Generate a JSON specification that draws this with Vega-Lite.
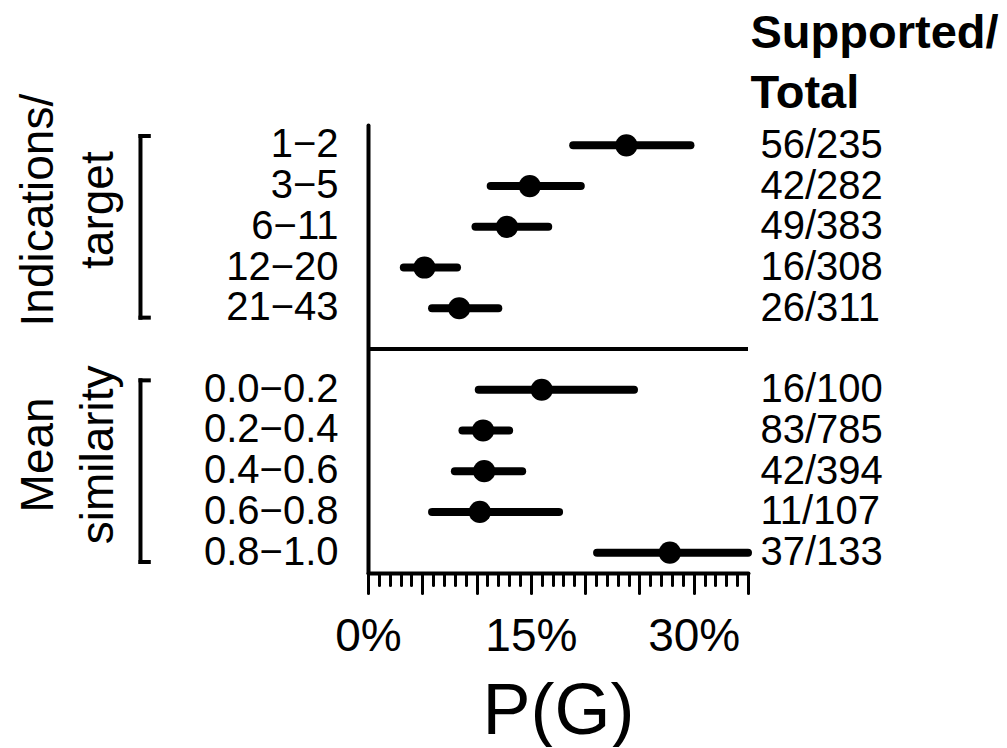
{
  "$schema": "https://vega.github.io/schema/vega-lite/v6.json",
  "padding": {"left": 0, "top": 9, "right": 0, "bottom": 0},
  "bounds": "flush",
  "spacing": 208,
  "config": {
    "font": "Liberation Sans",
    "view": {"stroke": null},
    "axis": {"grid": false, "domainColor": "black", "tickColor": "black", "labelColor": "black", "titleColor": "black"}
  },
  "resolve": {"scale": {"x": "independent", "y": "independent"}},
  "hconcat": [
    {
      "width": 160,
      "height": 448,
      "data": {"values": [{}]},
      "layer": [
        {
          "mark": {"type": "text", "angle": 270, "fontSize": 46, "align": "center", "baseline": "alphabetic", "lineHeight": 60, "color": "black"},
          "encoding": {
            "x": {"datum": 0.33, "type": "quantitative", "scale": {"domain": [0, 1], "nice": false, "zero": false}, "axis": null},
            "y": {"datum": 2.59, "type": "quantitative", "scale": {"domain": [0.5, 11.5], "nice": false, "zero": false, "reverse": true}, "axis": null},
            "text": {"value": ["Indications/", "target"]}
          }
        },
        {
          "mark": {"type": "text", "angle": 270, "fontSize": 46, "align": "center", "baseline": "alphabetic", "lineHeight": 60, "color": "black"},
          "encoding": {
            "x": {"datum": 0.33, "type": "quantitative"},
            "y": {"datum": 8.6, "type": "quantitative"},
            "text": {"value": ["Mean", "similarity"]}
          }
        },
        {
          "mark": {"type": "rule", "strokeWidth": 4, "strokeCap": "square", "color": "black"},
          "encoding": {"x": {"datum": 0.878, "type": "quantitative"}, "y": {"datum": 0.77, "type": "quantitative"}, "y2": {"datum": 5.23}}
        },
        {
          "mark": {"type": "rule", "strokeWidth": 4, "strokeCap": "square", "color": "black"},
          "encoding": {"x": {"datum": 0.878, "type": "quantitative"}, "x2": {"datum": 0.93}, "y": {"datum": 0.77, "type": "quantitative"}}
        },
        {
          "mark": {"type": "rule", "strokeWidth": 4, "strokeCap": "square", "color": "black"},
          "encoding": {"x": {"datum": 0.878, "type": "quantitative"}, "x2": {"datum": 0.93}, "y": {"datum": 5.23, "type": "quantitative"}}
        },
        {
          "mark": {"type": "rule", "strokeWidth": 4, "strokeCap": "square", "color": "black"},
          "encoding": {"x": {"datum": 0.878, "type": "quantitative"}, "y": {"datum": 6.77, "type": "quantitative"}, "y2": {"datum": 11.23}}
        },
        {
          "mark": {"type": "rule", "strokeWidth": 4, "strokeCap": "square", "color": "black"},
          "encoding": {"x": {"datum": 0.878, "type": "quantitative"}, "x2": {"datum": 0.93}, "y": {"datum": 6.77, "type": "quantitative"}}
        },
        {
          "mark": {"type": "rule", "strokeWidth": 4, "strokeCap": "square", "color": "black"},
          "encoding": {"x": {"datum": 0.878, "type": "quantitative"}, "x2": {"datum": 0.93}, "y": {"datum": 11.23, "type": "quantitative"}}
        }
      ]
    },
    {
      "width": 380,
      "height": 448,
      "data": {
        "values": [
          {"label": "1−2", "ratio": "56/235", "p": 0.238, "lo": 0.189, "hi": 0.297},
          {"label": "3−5", "ratio": "42/282", "p": 0.149, "lo": 0.113, "hi": 0.196},
          {"label": "6−11", "ratio": "49/383", "p": 0.128, "lo": 0.099, "hi": 0.166},
          {"label": "12−20", "ratio": "16/308", "p": 0.052, "lo": 0.033, "hi": 0.082},
          {"label": "21−43", "ratio": "26/311", "p": 0.084, "lo": 0.059, "hi": 0.120},
          {"label": "0.0−0.2", "ratio": "16/100", "p": 0.160, "lo": 0.102, "hi": 0.245},
          {"label": "0.2−0.4", "ratio": "83/785", "p": 0.106, "lo": 0.087, "hi": 0.130},
          {"label": "0.4−0.6", "ratio": "42/394", "p": 0.107, "lo": 0.080, "hi": 0.142},
          {"label": "0.6−0.8", "ratio": "11/107", "p": 0.103, "lo": 0.059, "hi": 0.176},
          {"label": "0.8−1.0", "ratio": "37/133", "p": 0.278, "lo": 0.211, "hi": 0.350}
        ]
      },
      "layer": [
        {
          "layer": [
            {
              "mark": {"type": "rule", "strokeWidth": 8, "strokeCap": "round", "color": "black"},
              "encoding": {
                "y": {
                  "field": "label", "type": "nominal",
                  "scale": {"domain": ["1−2", "3−5", "6−11", "12−20", "21−43", " ", "0.0−0.2", "0.2−0.4", "0.4−0.6", "0.6−0.8", "0.8−1.0"]},
                  "axis": {"title": null, "ticks": false, "tickSize": 0, "domainWidth": 4, "domainCap": "round", "labelFontSize": 40, "labelPadding": 30, "labelLimit": 400}
                },
                "x": {
                  "field": "lo", "type": "quantitative",
                  "scale": {"domain": [0, 0.35], "nice": false, "zero": false},
                  "axis": {
                    "orient": "bottom",
                    "values": [0, 0.05, 0.1, 0.15, 0.2, 0.25, 0.3, 0.35],
                    "labelExpr": "indexof([0, 15, 30], round(datum.value * 100)) >= 0 ? round(datum.value * 100) + '%' : ''",
                    "tickSize": 20, "tickWidth": 3, "tickCap": "round", "domainWidth": 4, "domainCap": "round",
                    "labelFontSize": 46, "labelPadding": 21, "labelFlush": false, "labelOverlap": false, "labelBound": false,
                    "title": "P(G)", "titleFontSize": 72, "titleFontWeight": "normal", "titlePadding": 17
                  }
                },
                "x2": {"field": "hi"}
              }
            },
            {
              "data": {"values": [{}]},
              "mark": {"type": "rule", "strokeWidth": 4, "color": "black"},
              "encoding": {"y": {"datum": " ", "type": "nominal"}}
            }
          ]
        },
        {
          "mark": {"type": "circle", "size": 491, "color": "black", "opacity": 1},
          "encoding": {
            "y": {
              "field": "ratio", "type": "nominal",
              "scale": {"domain": ["56/235", "42/282", "49/383", "16/308", "26/311", " ", "16/100", "83/785", "42/394", "11/107", "37/133"]},
              "axis": {
                "orient": "right", "ticks": false, "tickSize": 0, "domain": false,
                "labelFontSize": 40, "labelPadding": 12, "labelLimit": 400,
                "title": ["Supported/", "Total"], "titleAngle": 0, "titleAlign": "left", "titleBaseline": "alphabetic",
                "titleX": 2, "titleY": -78, "titleFontSize": 47, "titleFontWeight": "bold", "titleLineHeight": 60
              }
            },
            "x": {
              "field": "p", "type": "quantitative",
              "scale": {"domain": [0, 0.35], "nice": false, "zero": false},
              "axis": {
                "orient": "bottom",
                "values": [0.01, 0.02, 0.03, 0.04, 0.06, 0.07, 0.08, 0.09, 0.11, 0.12, 0.13, 0.14, 0.16, 0.17, 0.18, 0.19, 0.21, 0.22, 0.23, 0.24, 0.26, 0.27, 0.28, 0.29, 0.31, 0.32, 0.33, 0.34],
                "labels": false, "domain": false, "tickSize": 12, "tickWidth": 3, "tickCap": "round", "title": null
              }
            }
          }
        }
      ],
      "resolve": {"scale": {"x": "independent", "y": "independent"}, "axis": {"x": "independent", "y": "independent"}}
    }
  ]
}
